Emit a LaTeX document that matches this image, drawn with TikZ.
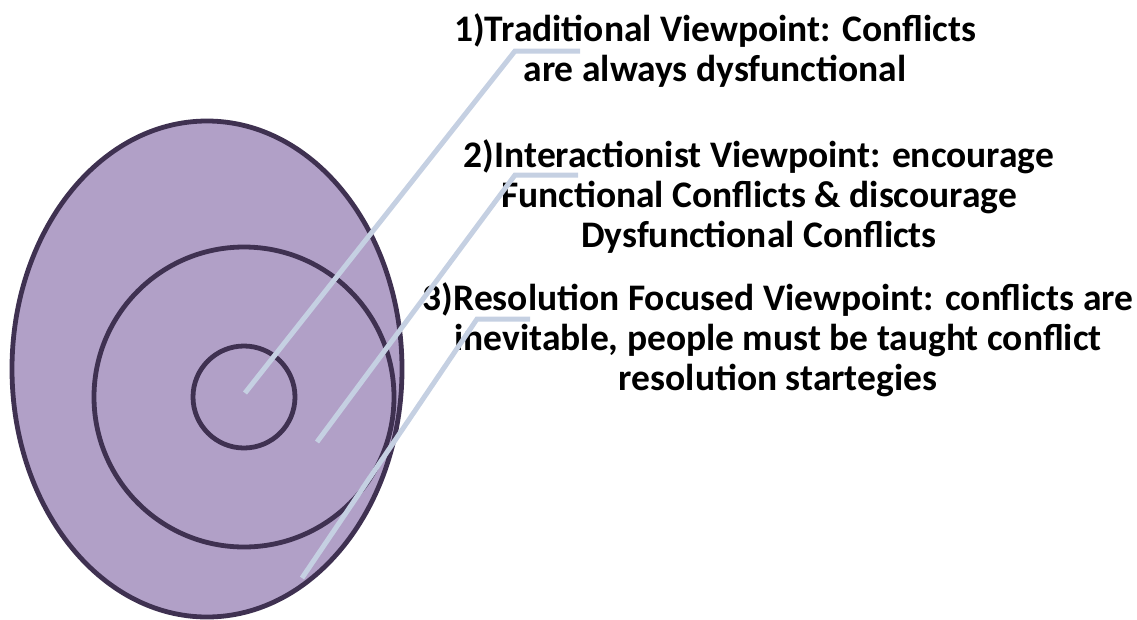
\documentclass[tikz,border=0pt]{standalone}
\usepackage{fontspec}
\setmainfont{Carlito}
\begin{document}
\begin{tikzpicture}[x=1pt,y=-1pt,
  ring/.style={draw=ringdark,line width=4.8pt},
  leader/.style={draw=leaderblue,line width=5pt},
  label/.style={font=\fontsize{37.5}{40}\selectfont\bfseries,align=center,inner sep=0pt,text=black}]
\definecolor{ringdark}{HTML}{3F3151}
\definecolor{ringfill}{HTML}{B1A0C7}
\definecolor{leaderblue}{HTML}{C5D0E2}
\useasboundingbox (0,0) rectangle (1137,619);

% nested rings
\draw[ring,fill=ringfill] (207,369) ellipse [x radius=195,y radius=248];
\node[ring,circle,minimum size=300pt,inner sep=0pt] (mid) at (244,397) {};
\node[ring,circle,minimum size=102pt,inner sep=0pt] (core) at (244,397) {};

% labels
\node[label] (t1) at (715,51) {1)Traditional Viewpoint: Conflicts\\are always dysfunctional};
\node[label] (t2) at (759,197) {2)Interactionist Viewpoint: encourage\\Functional Conflicts \& discourage\\Dysfunctional Conflicts};
\node[label] (t3) at (778,340) {3)Resolution Focused Viewpoint: conflicts are\\inevitable, people must be taught conflict\\resolution startegies};

% leader lines
\coordinate (p1) at (245,393);
\coordinate (k1) at (515,51);
\coordinate (e1) at (580,51);
\coordinate (p2) at (317,442);
\coordinate (k2) at (515,175);
\coordinate (e2) at (578,175);
\coordinate (p3) at (302,578);
\coordinate (k3) at (477,319);
\coordinate (e3) at (530,319);
\draw[leader] (p1) -- (k1) -- (e1);
\draw[leader] (p2) -- (k2) -- (e2);
\draw[leader] (p3) -- (k3) -- (e3);
\end{tikzpicture}
\end{document}
